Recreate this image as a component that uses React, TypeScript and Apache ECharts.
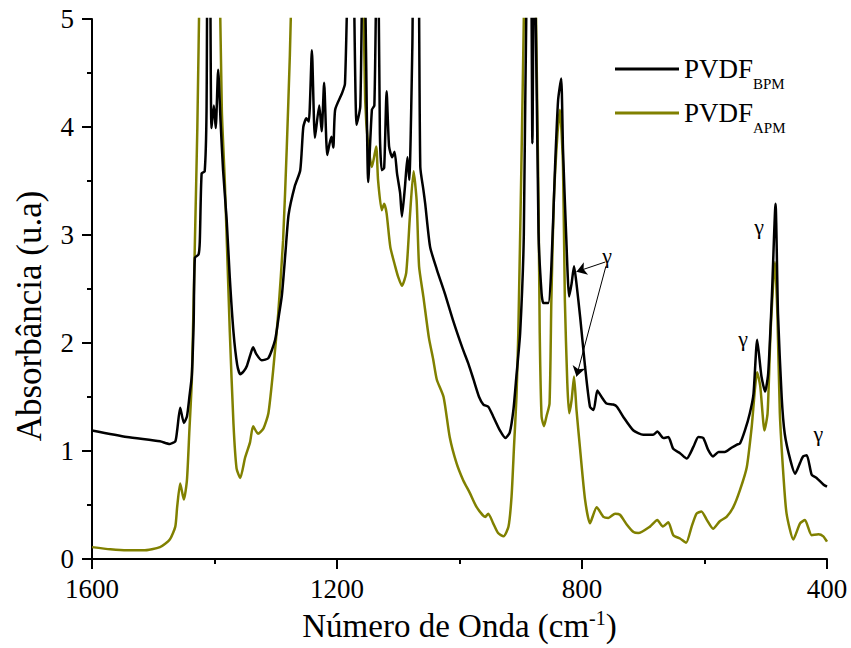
import React, { useEffect, useRef } from "react";
import * as echarts from "echarts";

// Wavenumber (cm-1) and absorbance for PVDF BPM (black)
const bpmWavenumber = [
  1600, 1543, 1489, 1473, 1464, 1461, 1456, 1450, 1445, 1441, 1437, 1434, 1432, 1426, 1424, 1421, 1416, 1413, 1411, 1408,
  1405, 1401, 1398, 1394, 1390, 1386, 1380, 1375, 1369, 1363, 1358, 1352, 1347, 1341, 1337, 1332, 1323, 1312, 1301, 1295,
  1290, 1284, 1279, 1269, 1260, 1255, 1250, 1246, 1241, 1236, 1229, 1225, 1221, 1216, 1212, 1209, 1206, 1203, 1192, 1187,
  1182, 1177, 1173, 1168, 1162, 1158, 1154, 1149, 1143, 1139, 1135, 1132, 1130, 1127, 1123, 1119, 1115, 1110, 1106, 1102,
  1097, 1094, 1089, 1085, 1082, 1077, 1074, 1068, 1064, 1059, 1056, 1048, 1037, 1024, 1010, 995, 985, 977, 968, 961,
  953, 945, 934, 925, 918, 912, 907, 901, 895, 890, 884, 881, 878, 871, 866, 863, 855, 850, 844, 839,
  834, 831, 826, 821, 817, 813, 809, 803, 795, 787, 781, 775, 768, 760, 749, 743, 733, 716, 700, 684,
  677, 667, 659, 651, 640, 629, 618, 610, 602, 594, 586, 577, 567, 556, 547, 542, 534, 526, 520, 514,
  507, 501, 496, 490, 484, 480, 474, 469, 460, 452, 444, 439, 433, 425, 417, 406, 400,
];
const bpmAbsorbance = [
  1.19, 1.13, 1.09, 1.065, 1.09, 1.19, 1.40, 1.26, 1.32, 1.50, 1.70, 2.2, 2.79, 2.82, 2.94, 3.57, 3.59, 4.15, 6.0, 6.0,
  3.99, 4.20, 3.99, 4.53, 4.04, 3.6, 3.13, 2.6, 2.10, 1.80, 1.71, 1.74, 1.79, 1.90, 1.96, 1.90, 1.84, 1.86, 2.03, 2.25,
  2.44, 2.85, 3.19, 3.45, 3.60, 4.00, 4.08, 4.05, 4.71, 3.90, 4.20, 3.96, 4.41, 3.74, 3.85, 3.91, 3.81, 4.16, 4.31, 4.40,
  5.5, 6.0, 5.5, 4.02, 4.19, 5.5, 5.2, 3.49, 4.16, 4.2, 5.5, 5.2, 3.94, 3.60, 3.62, 4.33, 3.82, 3.72, 3.77, 3.57,
  3.39, 3.17, 3.45, 3.72, 3.51, 4.74, 6.0, 6.0, 3.63, 3.42, 3.29, 2.89, 2.68, 2.46, 2.2, 1.95, 1.8, 1.66, 1.5, 1.43,
  1.41, 1.32, 1.19, 1.12, 1.17, 1.38, 1.70, 2.09, 3.0, 5.5, 6.0, 3.85, 6.0, 3.02, 2.46, 2.37, 2.37, 2.71, 3.63, 4.25,
  4.45, 3.79, 3.02, 2.43, 2.55, 2.71, 2.55, 2.24, 1.78, 1.41, 1.38, 1.56, 1.50, 1.44, 1.43, 1.41, 1.32, 1.19, 1.15, 1.15,
  1.18, 1.12, 1.13, 1.02, 0.98, 0.93, 1.04, 1.13, 1.12, 1.01, 0.95, 0.99, 0.99, 1.03, 1.06, 1.07, 1.19, 1.35, 1.53, 2.03,
  1.69, 1.55, 1.72, 2.43, 3.29, 2.27, 1.50, 1.16, 0.92, 0.79, 0.89, 0.95, 0.96, 0.78, 0.75, 0.69, 0.67,
];

// Wavenumber (cm-1) and absorbance for PVDF APM (olive)
const apmWavenumber = [
  1600, 1570, 1543, 1516, 1489, 1473, 1464, 1461, 1456, 1450, 1445, 1441, 1437, 1432, 1428, 1424, 1420, 1400, 1392, 1388,
  1383, 1375, 1369, 1364, 1358, 1350, 1342, 1337, 1329, 1320, 1312, 1304, 1296, 1288, 1282, 1277, 1273, 1260, 1170, 1158,
  1154, 1149, 1143, 1136, 1133, 1127, 1123, 1119, 1113, 1105, 1100, 1094, 1087, 1081, 1075, 1070, 1066, 1059, 1050, 1043,
  1037, 1026, 1016, 1005, 994, 983, 972, 958, 953, 945, 937, 928, 920, 915, 911, 907, 904, 899, 895, 890,
  880, 875, 871, 869, 866, 862, 858, 853, 850, 846, 840, 836, 831, 828, 824, 821, 817, 813, 809, 803,
  795, 787, 776, 765, 757, 746, 738, 727, 716, 708, 689, 677, 668, 659, 651, 640, 630, 621, 613, 605,
  596, 586, 575, 564, 553, 542, 531, 523, 514, 509, 502, 497, 492, 485, 481, 477, 471, 466, 455, 444,
  436, 425, 414, 406, 400,
];
const apmAbsorbance = [
  0.11, 0.09, 0.08, 0.08, 0.11, 0.18, 0.30, 0.48, 0.70, 0.55, 0.73, 1.19, 1.66, 2.94, 4.0, 5.5, 7.0, 7.0, 5.5, 4.15,
  3.47, 2.10, 1.25, 0.84, 0.75, 0.94, 1.08, 1.23, 1.16, 1.21, 1.35, 1.76, 2.27, 2.95, 3.81, 4.66, 5.5, 7.0, 7.0, 5.5,
  4.25, 3.82, 3.63, 3.82, 3.51, 3.23, 3.29, 3.2, 2.89, 2.71, 2.61, 2.53, 2.65, 3.17, 3.59, 3.32, 2.71, 2.43, 2.05, 1.85,
  1.66, 1.50, 1.13, 0.89, 0.73, 0.61, 0.48, 0.39, 0.42, 0.33, 0.24, 0.21, 0.30, 0.58, 1.04, 1.50, 2.09, 3.63, 5.0, 7.0,
  7.0, 5.0, 3.32, 2.09, 1.32, 1.23, 1.32, 1.44, 2.40, 3.32, 3.94, 4.16, 3.63, 2.40, 1.63, 1.35, 1.47, 1.69, 1.38, 1.01,
  0.55, 0.33, 0.48, 0.39, 0.38, 0.42, 0.41, 0.32, 0.25, 0.24, 0.30, 0.36, 0.30, 0.34, 0.22, 0.19, 0.15, 0.30, 0.42, 0.44,
  0.36, 0.28, 0.35, 0.39, 0.48, 0.64, 0.85, 1.22, 1.73, 1.60, 1.19, 1.35, 2.12, 2.75, 2.27, 1.35, 0.76, 0.42, 0.18, 0.33,
  0.36, 0.22, 0.23, 0.21, 0.16,
];

const seriesNames = ["PVDF BPM", "PVDF APM"];
const legendSubscripts = ["BPM", "APM"];

// gamma band labels [wavenumber, absorbance]
const gammaLabels: [number, number][] = [
  [759, 2.81],
  [511, 3.08],
  [537, 2.04],
  [414, 1.16],
];
// arrows from label to band [[from], [to]]
const gammaArrows: [[number, number], [number, number]][] = [
  [[762, 2.75], [809, 2.66]],
  [[761, 2.71], [809, 1.69]],
];

const FONT = "Liberation Serif";

export default function App() {
  const ref = useRef<HTMLDivElement>(null);
  useEffect(() => {
    if (!ref.current) return;
    const chart = echarts.init(ref.current, undefined, { renderer: "svg" });
    const bpm = bpmWavenumber.map((x, i) => [x, bpmAbsorbance[i]]);
    const apm = apmWavenumber.map((x, i) => [x, apmAbsorbance[i]]);
    const axisCommon = {
      axisLine: { show: true, lineStyle: { color: "#000", width: 2 } },
      axisTick: { show: true, inside: false, length: 10, lineStyle: { color: "#000", width: 2 } },
      minorTick: { show: true, splitNumber: 2, length: 5, lineStyle: { color: "#000", width: 2 } },
      splitLine: { show: false },
      minorSplitLine: { show: false },
    };
    chart.setOption({
      animation: false,
      backgroundColor: "#fff",
      textStyle: { fontFamily: FONT },
      grid: { left: 92, right: 24, top: 19, bottom: 89, containLabel: false },
      legend: {
        orient: "vertical",
        left: 610,
        top: 43,
        icon: "rect",
        itemWidth: 64,
        itemHeight: 3,
        itemGap: 1,
        data: seriesNames,
        formatter: (name: string) => `{main|PVDF}{sub|${legendSubscripts[seriesNames.indexOf(name)]}}`,
        textStyle: {
          fontFamily: FONT,
          color: "#000",
          rich: {
            main: { fontFamily: FONT, fontSize: 27, lineHeight: 44, color: "#000", verticalAlign: "middle" },
            sub: { fontFamily: FONT, fontSize: 15, lineHeight: 16, color: "#000", verticalAlign: "bottom", padding: [28, 0, 0, 0] },
          },
        },
      },
      xAxis: {
        type: "value",
        inverse: true,
        min: 400,
        max: 1600,
        interval: 400,
        ...axisCommon,
        axisLabel: {
          show: true,
          margin: 16,
          fontSize: 27,
          fontFamily: FONT,
          color: "#000",
          formatter: (v: number) => String(v),
        },
        name: "Número de Onda (cm{sup|-1})",
        nameLocation: "middle",
        nameGap: 49,
        nameTextStyle: {
          fontFamily: FONT,
          fontSize: 33,
          color: "#000",
          rich: {
            sup: { fontFamily: FONT, fontSize: 20, color: "#000", verticalAlign: "top", padding: [0, 0, 16, 0] },
          },
        },
      },
      yAxis: {
        type: "value",
        min: 0,
        max: 5,
        interval: 1,
        ...axisCommon,
        axisLabel: {
          show: true,
          margin: 18,
          fontSize: 27,
          fontFamily: FONT,
          color: "#000",
          formatter: (v: number) => String(v),
        },
        name: "Absorbância (u.a)",
        nameLocation: "middle",
        nameGap: 45,
        nameTextStyle: { fontFamily: FONT, fontSize: 35, color: "#000", padding: [0, 54, 0, 0] },
      },
      series: [
        {
          name: seriesNames[0],
          type: "line",
          data: bpm,
          symbol: "none",
          smooth: 0.2,
          clip: true,
          color: "#000",
          lineStyle: { color: "#000", width: 2.5 },
          z: 3,
          markPoint: {
            silent: true,
            symbol: "rect",
            symbolSize: 1,
            itemStyle: { color: "rgba(0,0,0,0)" },
            label: {
              show: true,
              position: "inside",
              formatter: "γ",
              fontFamily: FONT,
              fontSize: 22,
              color: "#000",
            },
            data: gammaLabels.map((c) => ({ coord: c })),
          },
          markLine: {
            silent: true,
            symbol: ["none", "arrow"],
            symbolSize: 10,
            label: { show: false },
            lineStyle: { color: "#000", width: 1, type: "solid" },
            data: gammaArrows.map(([a, b]) => [{ coord: a }, { coord: b }]),
          },
        },
        {
          name: seriesNames[1],
          type: "line",
          data: apm,
          symbol: "none",
          smooth: 0.2,
          clip: true,
          color: "#808000",
          lineStyle: { color: "#808000", width: 2.5 },
          z: 2,
        },
      ],
    });
    return () => chart.dispose();
  }, []);
  return <div ref={ref} style={{ width: 851, height: 648, position: "absolute", left: 0, top: 0 }} />;
}
